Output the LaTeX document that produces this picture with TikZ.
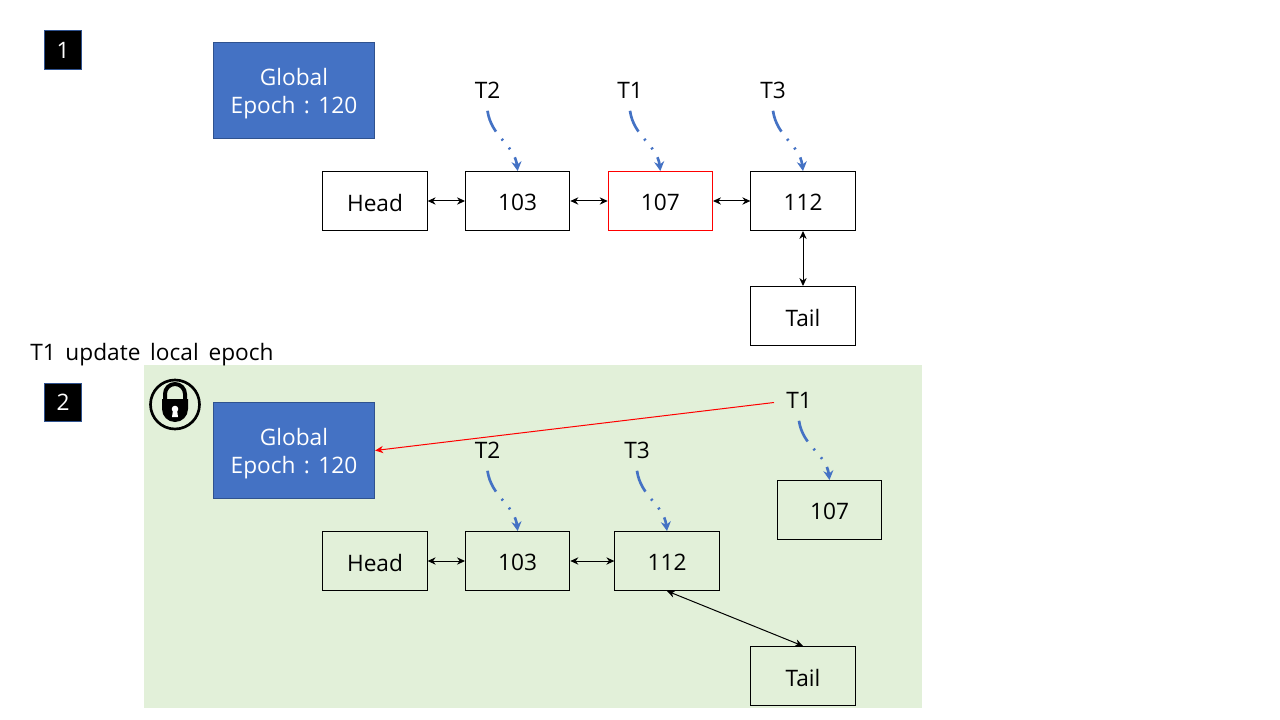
\documentclass[tikz,border=0pt]{standalone}
\usepackage{fontspec}
\setmainfont{Open Sans}
\usetikzlibrary{arrows.meta,positioning}
\definecolor{ppblue}{HTML}{4472C4}
\definecolor{ppedge}{HTML}{2F528F}
\definecolor{ppgreen}{HTML}{E2F0D9}
\newcommand{\textraise}[1]{\raisebox{-1.25pt}[\height][\depth]{#1}}
\newcommand{\epochtext}{\raisebox{-2.25pt}[\height][\depth]{Global}\\\raisebox{-2.25pt}[\height][\depth]{Epoch\hspace{6.3pt}:\hspace{6.3pt}120}}
\tikzset{
  listbox/.style={draw=black,line width=0.75pt,minimum width=78.25pt,minimum height=44.25pt,inner sep=0pt,font=\fontsize{17}{22}\selectfont},
  epochbox/.style={draw=ppedge,line width=0.75pt,fill=ppblue,text=white,minimum width=121pt,minimum height=72pt,inner sep=0pt,align=center,font=\fontsize{17}{21}\selectfont},
  stepbadge/.style={draw=ppedge,line width=0.75pt,fill=black,text=white,minimum width=28pt,minimum height=29pt,inner sep=0pt,font=\fontsize{17}{22}\selectfont},
  thread/.style={inner sep=0pt,minimum height=30pt,font=\fontsize{17}{22}\selectfont},
  tcurve/.style={-{Stealth[length=7pt,width=7.5pt]},draw=ppblue,line width=2pt,dash pattern=on 17pt off 7pt on 1.5pt off 7pt on 1.5pt off 7pt on 40pt},
  link/.style={{Stealth[length=6pt,width=5.5pt]}-{Stealth[length=6pt,width=5.5pt]},line width=0.75pt}
}
\begin{document}
\begin{tikzpicture}[x=0.75pt,y=-0.75pt,node distance=28pt]
\useasboundingbox (0,0) rectangle (1280,720);
\fill[ppgreen] (144,365) rectangle (922,708);

% step 1
\node[stepbadge] (one) at (63,50) {1};
\node[epochbox] (global1) at (294,90.5) {\epochtext};
\node[listbox] (head1) at (375,201) {\textraise{Head}};
\node[listbox] (a1) [right=of head1] {\textraise{103}};
\node[listbox,draw=red] (b1) [right=of a1] {\textraise{107}};
\node[listbox] (c1) [right=of b1] {\textraise{112}};
\node[listbox] (tail1) [below=41.25pt of c1] {\textraise{Tail}};
\node[thread] (t2a) at (487.5,90.5) {T2};
\node[thread] (t1a) at (630,90.5) {T1};
\node[thread] (t3a) at (773,90.5) {T3};

\path[link] (head1) edge (a1)
            (a1) edge (b1)
            (b1) edge (c1)
            (c1) edge (tail1);
\draw[tcurve] (t2a.south) to[out=-82,in=97] (a1.north);
\draw[tcurve] (t1a.south) to[out=-82,in=97] (b1.north);
\draw[tcurve] (t3a.south) to[out=-82,in=97] (c1.north);

\node[anchor=west,inner sep=0pt,font=\fontsize{17}{22}\selectfont] (caption) at (30,354.5) {T1\hspace{7.3pt}update\hspace{7.3pt}local\hspace{7.3pt}epoch};

% step 2
\node[stepbadge] (two) at (63,402.5) {2};
\node[epochbox] (global2) at (294,450.5) {\epochtext};
\node[listbox] (head2) at (375,561) {\textraise{Head}};
\node[listbox] (a2) [right=of head2] {\textraise{103}};
\node[listbox] (c2) [right=33pt of a2] {\textraise{112}};
\node[listbox] (tail2) at (803,676) {\textraise{Tail}};
\node[listbox] (b2) at (829.5,510) {\textraise{107}};
\node[thread] (t2b) at (487.5,450.5) {T2};
\node[thread] (t3b) at (637,450.5) {T3};
\node[thread] (t1b) at (799,400.5) {T1};

\path[link] (head2) edge (a2)
            (a2) edge (c2)
            (c2.south) edge (tail2.north);
\draw[-{Stealth[length=6pt,width=5.5pt]},red,line width=0.75pt] (t1b.west) ++(-12,2) coordinate (t1from) (t1from) -- (global2.east);
\draw[tcurve] (t2b.south) to[out=-82,in=97] (a2.north);
\draw[tcurve] (t3b.south) to[out=-82,in=97] (c2.north);
\draw[tcurve] (t1b.south) to[out=-82,in=97] (b2.north);

% lock
\draw[line width=2pt] (175,404.5) circle (24.5);
\draw[line width=3pt] (165,402) -- (165,394) arc (180:360:10) -- (185,402);
\fill (162,399) -- (188,399) -- (188,409) arc (0:180:13) -- cycle;
\fill[white] (175,409) circle (3.3);
\fill[white] (173,410) -- (177,410) -- (178,417) -- (172,417) -- cycle;
\end{tikzpicture}
\end{document}
